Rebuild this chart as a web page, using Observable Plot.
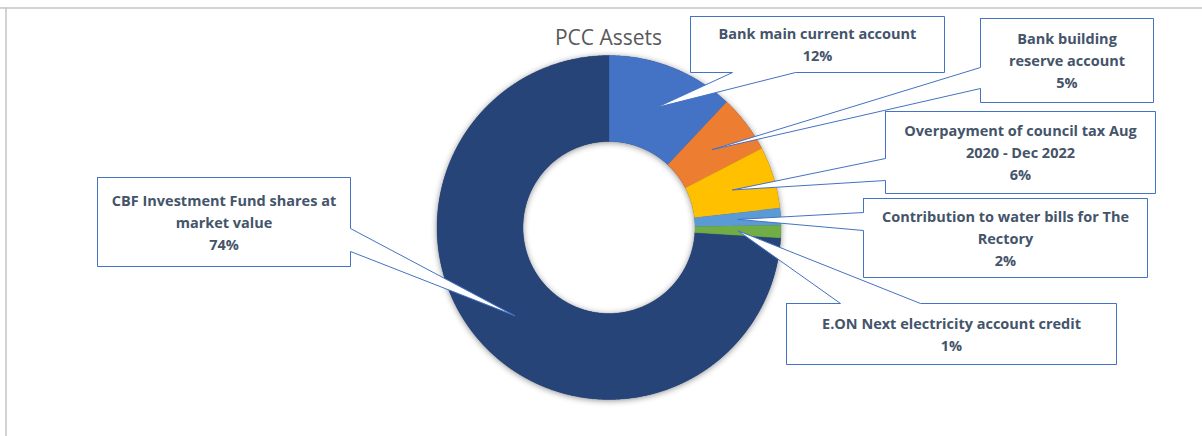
<!DOCTYPE html>
<html><head><meta charset="utf-8">
<script src="https://cdn.jsdelivr.net/npm/d3@7"></script>
<script src="https://cdn.jsdelivr.net/npm/@observablehq/plot@0.6"></script>
<style>
body{margin:0;background:#fff}
#chart svg{display:block}
g[fill="#264479"]{filter:drop-shadow(0px 1px 3px rgba(0,0,0,0.45))}
</style>
</head><body><div id="chart"></div>
<script>
// ---- data ----
const title = "PCC Assets";
const categories = [
  "Bank main current account",
  "Bank building reserve account",
  "Overpayment of council tax Aug 2020 - Dec 2022",
  "Contribution to water bills for The Rectory",
  "E.ON Next electricity account credit",
  "CBF Investment Fund shares at market value"
];
const values = [12.0, 5.4, 5.8, 1.6, 1.2, 74.0];
const percentLabels = ["12%", "5%", "6%", "2%", "1%", "74%"];
// how each category label wraps in its callout
const labelLines = [
  ["Bank main current account"],
  ["Bank building", "reserve account"],
  ["Overpayment of council tax Aug", "2020 - Dec 2022"],
  ["Contribution to water bills for The", "Rectory"],
  ["E.ON Next electricity account credit"],
  ["CBF Investment Fund shares at", "market value"]
];
const colors = ["#4472C4", "#ED7D31", "#FFC000", "#5B9BD5", "#70AD47", "#264478"];

// ---- layout (pixel units, the x/y scales are identity-like) ----
const W = 1202, H = 436;
const donut = {cx: 608.5, cy: 227, rOuter: 172, rInner: 86, tipR: 129};
const titlePos = {x: 608, y: 38};
const callouts = [
  {x1: 690, x2: 944, y1: 16, y2: 72, edge: "bottom", b1: 732, b2: 795},
  {x1: 980, x2: 1153, y1: 18, y2: 102, edge: "left", b1: 67, b2: 88},
  {x1: 885, x2: 1155, y1: 111, y2: 193, edge: "left", b1: 158, b2: 180},
  {x1: 863, x2: 1147, y1: 198, y2: 277, edge: "left", b1: 212, b2: 230},
  {x1: 786, x2: 1116, y1: 303, y2: 364, edge: "top", b1: 840, b2: 920},
  {x1: 97, x2: 350, y1: 177, y2: 266, edge: "right", b1: 228, b2: 251}
];
const labelFont = {size: 14.5, lineGap: 22, dy: -1.5};

// ---- geometry from data ----
const arcs = d3.pie().sort(null).startAngle(0).endAngle(2 * Math.PI)(values);
const pt = (r, a) => [donut.cx + r * Math.sin(a), donut.cy - r * Math.cos(a)];
function arcPts(r, a0, a1) {
  const n = Math.max(4, Math.ceil(Math.abs(a1 - a0) / (Math.PI / 360)));
  const out = [];
  for (let k = 0; k <= n; k++) out.push(pt(r, a0 + (a1 - a0) * k / n));
  return out;
}
const sliceData = arcs.map((a, i) => {
  const ring = [...arcPts(donut.rOuter, a.startAngle, a.endAngle), ...arcPts(donut.rInner, a.endAngle, a.startAngle)];
  ring.push(ring[0]);
  return ring.map(([x, y]) => ({x, y, cat: categories[i]}));
});
// whole ring (outer clockwise, inner counter-clockwise) used only for the soft shadow
const shadowRing = [...arcPts(donut.rOuter, 0, 2 * Math.PI), ...arcPts(donut.rInner, 2 * Math.PI, 0)]
  .map(([x, y]) => ({x, y}));

const calloutPts = [];
const labelRows = [];
callouts.forEach((c, i) => {
  const a = arcs[i];
  const tip = pt(donut.tipR, (a.startAngle + a.endAngle) / 2);
  let P;
  const {x1, x2, y1, y2, b1, b2} = c;
  if (c.edge === "bottom") P = [[x1,y1],[x2,y1],[x2,y2],[b2,y2],tip,[b1,y2],[x1,y2],[x1,y1]];
  else if (c.edge === "left") P = [[x1,y1],[x2,y1],[x2,y2],[x1,y2],[x1,b2],tip,[x1,b1],[x1,y1]];
  else if (c.edge === "right") P = [[x1,y1],[x2,y1],[x2,b1],tip,[x2,b2],[x2,y2],[x1,y2],[x1,y1]];
  else P = [[x1,y1],[b1,y1],tip,[b2,y1],[x2,y1],[x2,y2],[x1,y2],[x1,y1]];
  P.forEach(([x, y]) => calloutPts.push({x, y, cat: categories[i]}));
  labelRows.push({
    x: (x1 + x2) / 2,
    y: (y1 + y2) / 2 + labelFont.dy,
    text: [...labelLines[i], percentLabels[i]].join("\n")
  });
});

const plot = Plot.plot({
  width: W, height: H,
  margin: 0,
  x: {domain: [0, W], range: [0, W], axis: null},
  y: {domain: [0, H], range: [0, H], axis: null},
  style: {fontFamily: "'Open Sans', Lato, sans-serif", background: "#fff"},
  marks: [
    Plot.ruleY([7.5], {x1: 0, x2: W, stroke: "#c4c4c4", strokeWidth: 1.5}),
    Plot.ruleX([5.5], {y1: 7.5, y2: H, stroke: "#c4c4c4", strokeWidth: 1.5}),
    Plot.line(shadowRing, {x: "x", y: "y", fill: "#264479", stroke: "none", curve: "linear"}),
    ...sliceData.map((pts, i) => Plot.line(pts, {x: "x", y: "y", fill: colors[i], stroke: colors[i], strokeWidth: 0.3, curve: "linear"})),
    Plot.line(calloutPts, {x: "x", y: "y", z: "cat", fill: "white", stroke: "#4472C4", strokeWidth: 1, curve: "linear", strokeLinejoin: "miter"}),
    Plot.text(labelRows, {x: "x", y: "y", text: "text", fontSize: labelFont.size, fontWeight: "bold",
      lineHeight: labelFont.lineGap / labelFont.size, lineAnchor: "middle", textAnchor: "middle", fill: "#44546A"}),
    Plot.text([title], {x: titlePos.x, y: titlePos.y, text: d => d, fontSize: 21, fill: "#595959", textAnchor: "middle", lineAnchor: "middle"})
  ]
});
document.getElementById("chart").appendChild(plot);
</script>
</body></html>
